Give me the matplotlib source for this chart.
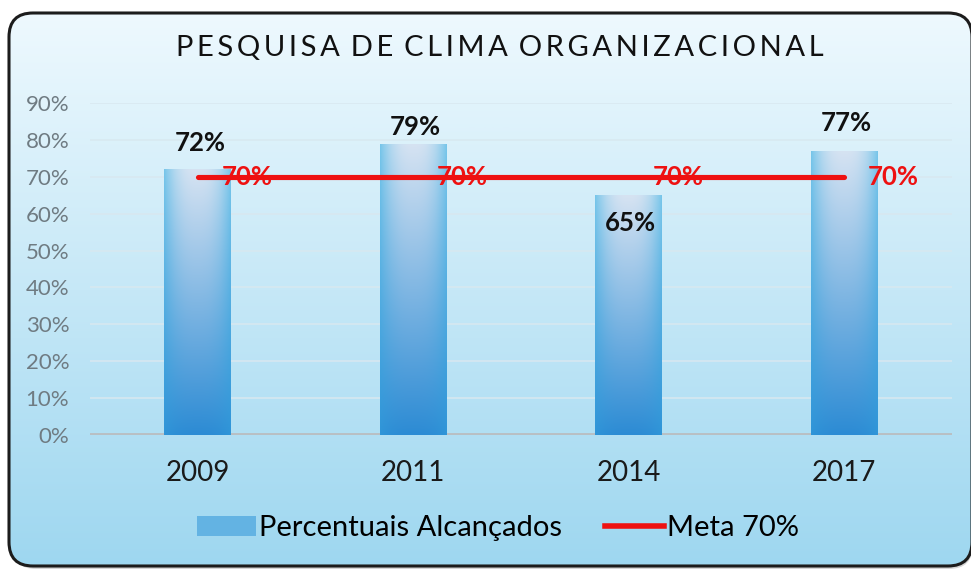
import numpy as np
import matplotlib
matplotlib.use("Agg")
import matplotlib.pyplot as plt
from matplotlib.patches import FancyBboxPatch, Patch
from matplotlib.lines import Line2D
from matplotlib.colors import to_rgb

plt.rcParams['font.family'] = ['Lato', 'DejaVu Sans']

# dados
anos = ['2009', '2011', '2014', '2017']
percentuais = [0.72, 0.79, 0.65, 0.77]
meta = [0.70, 0.70, 0.70, 0.70]
rotulos = ['72%', '79%', '65%', '77%']
meta_rotulos = ['70%', '70%', '70%', '70%']
yticks = [0.0, 0.1, 0.2, 0.3, 0.4, 0.5, 0.6, 0.7, 0.8, 0.9]
titulo = 'PESQUISA DE CLIMA ORGANIZACIONAL'

# deslocamento vertical (pt) dos rótulos de valor, como no original
desloc = [19, 12, -20, 20]

W, H = 971, 569
fig = plt.figure(figsize=(W / 100, H / 100), dpi=100)

# ---- fundo: caixa arredondada com degradê ----
ax_bg = fig.add_axes([0, 0, 1, 1], zorder=-5)
ax_bg.set_xlim(0, W)
ax_bg.set_ylim(0, H)
ax_bg.axis('off')

topo = np.array(to_rgb('#eef9fe'))
base = np.array(to_rgb('#9ed7f0'))
t = np.linspace(0, 1, 256)[:, None]
grad = base * (1 - t) + topo * t
grad = np.repeat(grad[:, None, :], 2, axis=1)

# sombra
sombra = FancyBboxPatch((12, 0), 961, 553, boxstyle='round,pad=0,rounding_size=24',
                        facecolor='#9a9a9a', edgecolor='none', alpha=0.4)
ax_bg.add_patch(sombra)
caixa = FancyBboxPatch((9, 3), 963, 553, boxstyle='round,pad=0,rounding_size=24',
                       facecolor='none', edgecolor='#1c1c1c', linewidth=2.2, zorder=3)
ax_bg.add_patch(caixa)
im = ax_bg.imshow(grad, extent=[9, 972, 3, 556], origin='lower', aspect='auto', zorder=2)
im.set_clip_path(caixa)

# título com espaçamento entre letras
titulo_esp = '\u2009'.join(list(titulo)).replace('\u2009 \u2009', '\u2009\u2009\u2009')
fig.text(0.515, 0.916, titulo_esp, ha='center', va='center', fontsize=21,
         color='#111111')

# ---- gráfico ----
ax = fig.add_axes([90 / W, 134 / H, 862 / W, 332 / H])
ax.patch.set_alpha(0)
x = np.arange(len(anos))
largura = 0.31

barras = ax.bar(x, percentuais, width=largura, color='none', edgecolor='none', zorder=2)

# degradê das barras (vertical + mais saturado nas bordas)
c_base = np.array(to_rgb('#2c8bd4'))
c_topo = np.array(to_rgb('#d6e3f2'))
b_base = np.array(to_rgb('#2f95d8'))
b_topo = np.array(to_rgb('#78c6ea'))
tv = np.linspace(0, 1, 200)[:, None, None]
u = np.linspace(-1, 1, 60)[None, :, None]
centro = c_base * (1 - tv) + c_topo * tv
borda = b_base * (1 - tv) + b_topo * tv
w = np.abs(u) ** 2.5
img_barra = centro * (1 - w) + borda * w

for b in barras:
    x0, y0 = b.get_x(), b.get_y()
    bi = ax.imshow(img_barra, extent=[x0, x0 + b.get_width(), y0, y0 + b.get_height()],
                   origin='lower', aspect='auto', zorder=2)
    bi.set_clip_path(b)

# linha da meta
ax.plot(x, meta, color='#ee1111', linewidth=3.7, solid_capstyle='round', zorder=4)

for xi, v, lab, dy in zip(x, percentuais, rotulos, desloc):
    ax.annotate(lab, (xi, v), xytext=(1.5, dy), textcoords='offset points',
                ha='center', va='center', fontsize=18.5, fontweight='bold', color='#111111',
                zorder=5)
for xi, v, lab in zip(x, meta, meta_rotulos):
    ax.annotate(lab, (xi, v), xytext=(17, 0), textcoords='offset points',
                ha='left', va='center', fontsize=18.5, fontweight='bold', color='#ee1111',
                zorder=5)

ax.set_xlim(-0.5, len(anos) - 0.5)
ax.set_ylim(0, 0.9)
ax.set_yticks(yticks)
ax.set_yticklabels([f'{int(round(v * 100))}%' for v in yticks])
ax.set_xticks(x)
ax.set_xticklabels(anos)
ax.tick_params(axis='y', length=0, labelsize=16, labelcolor='#6f7b82', pad=15)
ax.tick_params(axis='x', length=0, labelsize=20, labelcolor='#1a1a1a', pad=18)
for s in ax.spines.values():
    s.set_visible(False)
ax.grid(axis='y', color='#d8e8f0', linewidth=1.1, zorder=0)
ax.set_axisbelow(True)
ax.axhline(0, color='#b9bfc3', linewidth=2.8, zorder=1)

handles = [Patch(facecolor='#63b3e3', edgecolor='none'),
           Line2D([0], [0], color='#ee1111', linewidth=4)]
fig.legend(handles, ['Percentuais Alcançados', 'Meta 70%'], loc='center',
           bbox_to_anchor=(0.513, 0.072), ncol=2, frameon=False, fontsize=21,
           handlelength=2.0, handletextpad=0.1, columnspacing=1.5)

fig.savefig('out.png', dpi=100)
